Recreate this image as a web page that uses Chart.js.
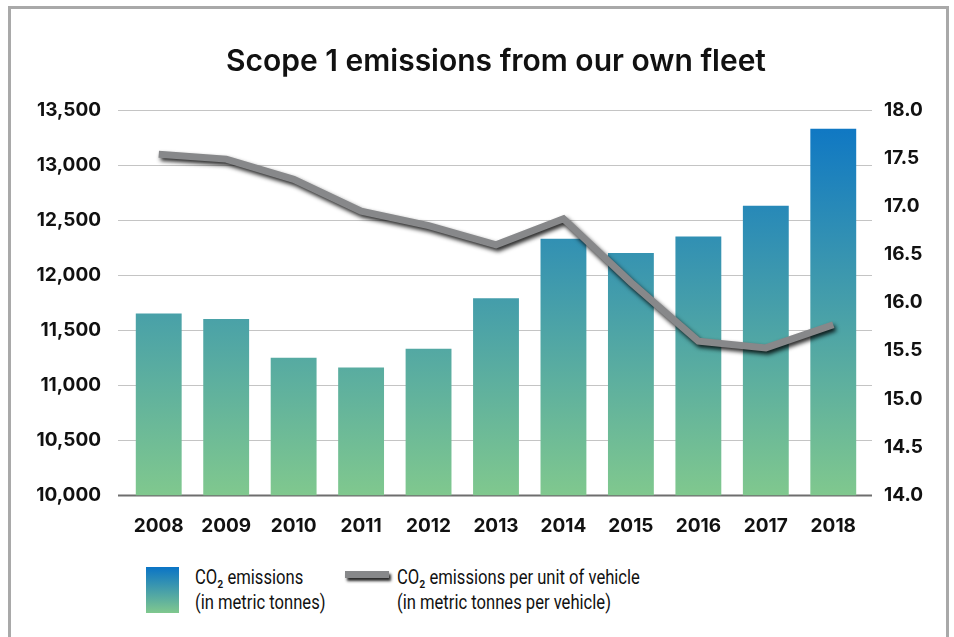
<!DOCTYPE html>
<html>
<head>
<meta charset="utf-8">
<script src="https://cdn.jsdelivr.net/npm/chart.js@4.4.1/dist/chart.umd.min.js"></script>
<style>
html, body { margin: 0; padding: 0; background: #fff; width: 954px; height: 637px; overflow: hidden; }
#frame { position: absolute; left: 8px; top: 6px; width: 935px; height: 700px; border: 3px solid #a9a9a9; }
#wrap { position: absolute; left: 0; top: 0; width: 954px; height: 558px; }
.lg { position: absolute; font-family: "Roboto", sans-serif; font-size: 20px; line-height: 25px; color: #111; white-space: nowrap; transform: scaleX(0.83); transform-origin: 0 0; }
#box1 { position: absolute; left: 146px; top: 567px; width: 33px; height: 46px; background: linear-gradient(to top, #80c88e, #0a74c6); }
#line1 { position: absolute; left: 345px; top: 571px; width: 44px; height: 7px; background: #87888a; box-shadow: 2px 3px 3px rgba(0,0,0,0.85); }
</style>
</head>
<body>
<div id="frame"></div>
<div id="wrap"><canvas id="myChart"></canvas></div>
<div id="box1"></div>
<div class="lg" style="left:195px; top:565px;">CO₂ emissions<br>(in metric tonnes)</div>
<div id="line1"></div>
<div class="lg" style="left:397px; top:565px;">CO₂ emissions per unit of vehicle<br>(in metric tonnes per vehicle)</div>
<script>
const years = ['2008', '2009', '2010', '2011', '2012', '2013', '2014', '2015', '2016', '2017', '2018'];
const emissions = [11650, 11600, 11250, 11160, 11330, 11790, 12330, 12200, 12350, 12630, 13330];
const perVehicle = [17.54, 17.49, 17.28, 16.95, 16.8, 16.6, 16.87, 16.21, 15.6, 15.53, 15.77];

const tickFont = { family: 'Inter', size: 19, weight: 'bold' };

// gridlines a bit wider than the plot, plus the darker base line
const gridPlugin = {
 id: 'grid',
 beforeDatasetsDraw(chart) {
  const { ctx, chartArea: a, scales } = chart;
  const y = scales.y;
  ctx.save();
  y.ticks.forEach(t => {
   const py = Math.round(y.getPixelForValue(t.value)) + 0.5;
   ctx.beginPath();
   ctx.moveTo(a.left - 7, py);
   ctx.lineTo(a.right + 5, py);
   ctx.strokeStyle = t.value === y.min ? '#6e6e6e' : '#c4c4c4';
   ctx.lineWidth = t.value === y.min ? 2 : 1;
   ctx.stroke();
  });
  ctx.restore();
 },
};

// drop shadow under the line
const shadowPlugin = {
 id: 'shadow',
 beforeDatasetDraw(chart, args) {
  if (args.index !== 1) return;
  const ctx = chart.ctx;
  ctx.save();
  ctx.shadowColor = 'rgba(0,0,0,0.85)';
  ctx.shadowBlur = 4;
  ctx.shadowOffsetX = 2;
  ctx.shadowOffsetY = 3;
 },
 afterDatasetDraw(chart, args) {
  if (args.index !== 1) return;
  chart.ctx.restore();
 },
};

const datasets = [];
datasets.push({
 type: 'bar',
 label: 'CO₂ emissions',
 data: emissions,
 yAxisID: 'y',
 order: 1,
 barPercentage: 0.68,
 categoryPercentage: 1,
 backgroundColor: c => {
  const a = c.chart.chartArea;
  if (!a) return '#45a0a8';
  const g = c.chart.ctx.createLinearGradient(0, a.bottom, 0, a.top);
  g.addColorStop(0, '#80c88e');
  g.addColorStop(1, '#0a74c6');
  return g;
 },
});
datasets.push({
 type: 'line',
 label: 'CO₂ emissions per unit of vehicle',
 data: perVehicle,
 yAxisID: 'y1',
 order: 0,
 borderColor: '#87888a',
 borderWidth: 7,
 borderCapStyle: 'butt',
 borderJoinStyle: 'miter',
 pointRadius: 0,
 tension: 0,
 fill: false,
});

const config = {
 data: { labels: years, datasets },
 options: {
  responsive: true,
  maintainAspectRatio: false,
  animation: false,
  layout: { padding: 0 },
  plugins: {
   legend: { display: false },
   tooltip: { enabled: false },
   title: {
    display: true,
    fullSize: false,
    text: 'Scope 1 emissions from our own fleet',
    color: '#111',
    font: { family: 'Inter', size: 30, weight: '600' },
    padding: { top: 44, bottom: 30 },
   },
  },
  scales: {
   x: {
    grid: { display: false, drawTicks: false },
    border: { display: false },
    ticks: { font: tickFont, color: '#111', padding: 20 },
   },
   y: {
    position: 'left',
    min: 10000,
    max: 13500,
    grid: { display: false, drawTicks: false },
    border: { display: false },
    ticks: {
     stepSize: 500,
     font: tickFont,
     color: '#111',
     padding: 24,
     callback: v => v.toLocaleString('en-US'),
    },
    afterFit: s => { s.width = 125; },
   },
   y1: {
    position: 'right',
    min: 14,
    max: 18,
    grid: { display: false, drawTicks: false },
    border: { display: false },
    ticks: {
     stepSize: 0.5,
     font: tickFont,
     color: '#111',
     padding: 17,
     callback: v => v.toFixed(1),
    },
    afterFit: s => { s.width = 87; },
   },
  },
 },
 plugins: [gridPlugin, shadowPlugin],
};

const ctx = document.getElementById('myChart').getContext('2d');
const myChart = new Chart(ctx, config);
</script>
</body>
</html>
